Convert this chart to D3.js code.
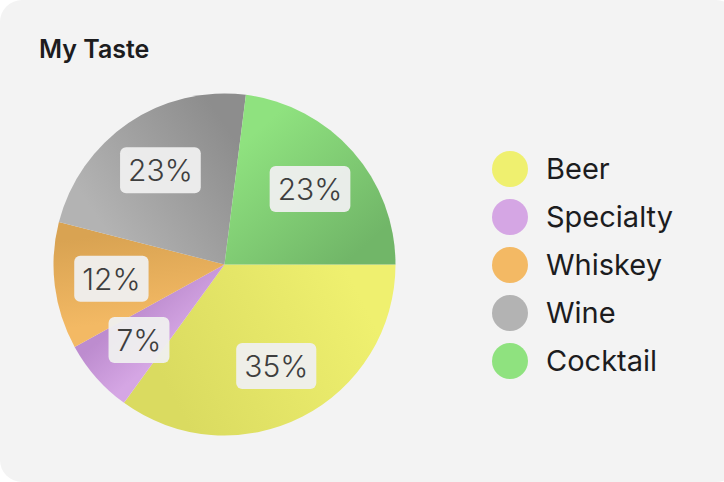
<!DOCTYPE html>
<html>
<head>
<meta charset="utf-8">
<script src="https://cdn.jsdelivr.net/npm/d3@7"></script>
<style>
html,body{margin:0;padding:0;background:#ffffff;}
svg{display:block;}
</style>
</head>
<body>
<svg id="chart" width="724" height="482"></svg>
<script>
const title = "My Taste";
const categories = ["Beer", "Specialty", "Whiskey", "Wine", "Cocktail"];
const values = [35, 7, 12, 23, 23];
const colors = ["#eff06f", "#d5a6e4", "#f3b964", "#b3b3b3", "#8fe27f"];
const shadeColors = ["#dadb60", "#bd8ccf", "#d9a352", "#8d8d8d", "#71b668"];

const svg = d3.select("#chart");
const W = 724, H = 482;
const font = "Inter, 'Noto Sans', sans-serif";

svg.append("rect").attr("x", 0).attr("y", 0).attr("width", W + 14).attr("height", H)
  .attr("rx", 22).attr("ry", 22).attr("fill", "#f3f3f3");

svg.append("text").attr("x", 39).attr("y", 58).text(title)
  .attr("font-family", font).attr("font-weight", 600).attr("font-size", 25)
  .attr("fill", "#1c1c1e");

const cx = 224.5, cy = 264.5, r = 171;
const total = d3.sum(values);
const pie = d3.pie().sort(null).value(d => d.v)
  .startAngle(Math.PI / 2).endAngle(Math.PI / 2 + 2 * Math.PI);
const data = categories.map((c, i) => ({c, v: values[i], i}));
const arcs = pie(data);
const arc = d3.arc().innerRadius(0).outerRadius(r);
const labelArc = d3.arc().innerRadius(114).outerRadius(114);

const defs = svg.append("defs");
arcs.forEach((a, i) => {
  const rr = r * 0.7;
  const g = defs.append("linearGradient").attr("id", "g" + i)
    .attr("gradientUnits", "userSpaceOnUse")
    .attr("x1", rr * Math.sin(a.startAngle)).attr("y1", -rr * Math.cos(a.startAngle))
    .attr("x2", rr * Math.sin(a.endAngle)).attr("y2", -rr * Math.cos(a.endAngle));
  g.append("stop").attr("offset", "0%").attr("stop-color", colors[i]);
  g.append("stop").attr("offset", "100%").attr("stop-color", shadeColors[i]);
});

const gp = svg.append("g").attr("transform", `translate(${cx},${cy})`);
gp.selectAll("path.slice").data(arcs).join("path").attr("class", "slice")
  .attr("d", arc).attr("fill", (d, i) => `url(#g${i})`);

const fmt = d => Math.round(d.data.v / total * 100) + "%";
const lg = gp.selectAll("g.lab").data(arcs).join("g").attr("class", "lab")
  .attr("transform", d => `translate(${labelArc.centroid(d)})`);
lg.append("text").text(fmt).attr("text-anchor", "middle").attr("dy", "0.36em")
  .attr("font-family", font).attr("font-weight", 300).attr("font-size", 30).attr("fill", "#3e3e3e")
  .each(function() {
    const b = this.getBBox();
    d3.select(this.parentNode).insert("rect", "text")
      .attr("x", -b.width / 2 - 8).attr("y", -23).attr("width", b.width + 16).attr("height", 46)
      .attr("rx", 6).attr("fill", "#efefef").attr("fill-opacity", 0.95);
  });

const leg = svg.append("g");
const ly = d3.scaleBand().domain(categories).range([145, 385]);
const items = leg.selectAll("g").data(categories).join("g")
  .attr("transform", d => `translate(510,${ly(d) + ly.bandwidth() / 2})`);
items.append("circle").attr("r", 18).attr("fill", (d, i) => colors[i]);
items.append("text").attr("x", 36).attr("dy", "0.36em").text(d => d)
  .attr("font-family", font).attr("font-size", 29).attr("fill", "#1c1c1e");
</script>
</body>
</html>
